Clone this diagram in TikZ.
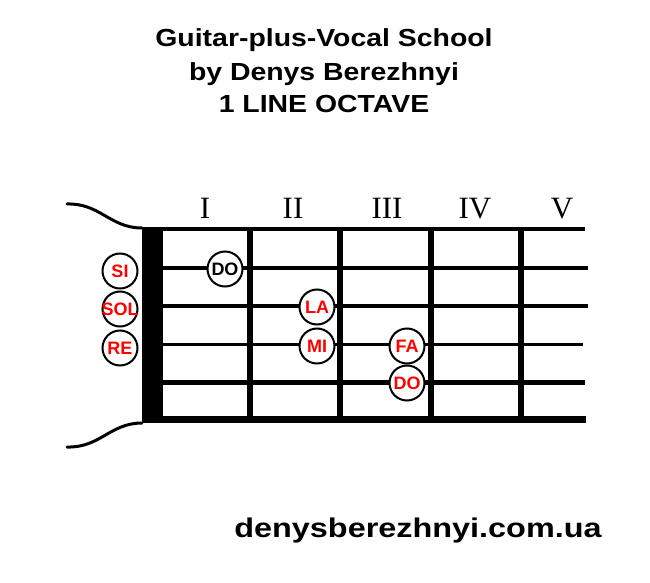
\documentclass[tikz,border=0pt]{standalone}
\usepackage{fontspec}
\setmainfont{Liberation Serif}
\newfontfamily\arialfont{Liberation Sans}
\definecolor{notered}{RGB}{255,0,0}
\newcommand{\notetext}[1]{\makebox[0pt]{#1}}
\begin{document}
\begin{tikzpicture}[x=1pt,y=-1pt,
  title/.style={font=\arialfont\bfseries\fontsize{24.7}{24.7}\selectfont, xscale=1.15, inner sep=0, anchor=base},
  url/.style={font=\arialfont\bfseries\fontsize{27}{27}\selectfont, xscale=1.2, inner sep=0, anchor=base},
  roman/.style={font=\fontsize{31}{31}\selectfont, inner sep=0, anchor=base},
  note/.style={circle, draw=black, line width=2pt, fill=white, minimum size=35pt, inner sep=0,
    font=\arialfont\bfseries\fontsize{18}{18}\selectfont, text=notered},
  blacknote/.style={note, text=black},
  fret/.style={line width=6.5pt},
  edge/.style={line width=3pt, line cap=round}
]
\useasboundingbox (0,0) rectangle (650,583);
% titles
\node[title] (t1) at (324,46.7) {Guitar-plus-Vocal School};
\node[title] (t2) at (324,81) {by Denys Berezhnyi};
\node[title] (t3) at (324,113) {1 LINE OCTAVE};
\node[url] (url) at (418,537) {denysberezhnyi.com.ua};
% roman numerals
\node[roman] (r1) at (205,218) {I};
\node[roman] (r2) at (293,218) {II};
\node[roman] (r3) at (387,218) {III};
\node[roman] (r4) at (475,218) {IV};
\node[roman] (r5) at (562,218) {V};
% headstock edges
\draw[edge] (67,204) .. controls (100,203) and (110,228) .. (142,228);
\draw[edge] (67,447) .. controls (100,448) and (110,423) .. (142,423);
% strings
\draw[line width=4pt] (160,228.7) -- (585,228.7);
\draw[line width=4pt] (160,268) -- (588,268);
\draw[line width=4pt] (160,306) -- (588,306);
\draw[line width=3.4pt] (160,344.3) -- (583,344.3);
\draw[line width=5.2pt] (160,382.7) -- (585,382.7);
\draw[line width=7pt] (160,419.5) -- (586,419.5);
% frets
\draw[fret] (250,227) -- (250,423);
\draw[fret] (340,227) -- (340,423);
\draw[fret] (431,227) -- (431,423);
\draw[fret] (521,227) -- (521,423);
% nut
\fill (142,227) rectangle (163,423);
% notes
\node[note] (si) at (120,271) {\notetext{SI}};
\node[note] (sol) at (120,309) {\notetext{SOL}};
\node[note] (re) at (120,348) {\notetext{RE}};
\node[blacknote] (do1) at (225,269) {\notetext{DO}};
\node[note] (la) at (317,307) {\notetext{LA}};
\node[note] (mi) at (317,346) {\notetext{MI}};
\node[note] (fa) at (407,346) {\notetext{FA}};
\node[note] (do2) at (407,383) {\notetext{DO}};
\end{tikzpicture}
\end{document}
